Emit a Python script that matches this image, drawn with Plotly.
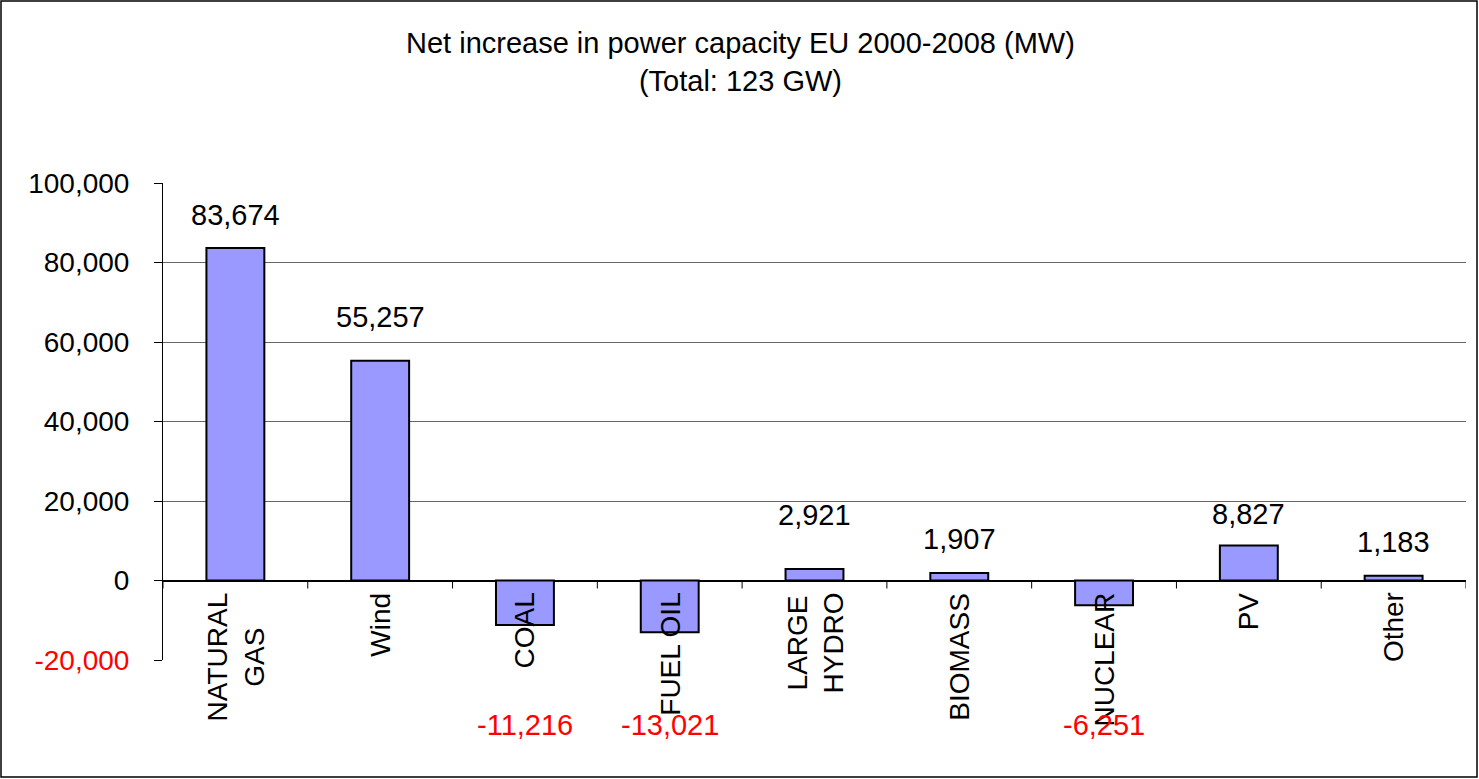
import plotly.graph_objects as go

# Net capacity change by technology, EU 2000-2008 (MW)
categories = ["NATURAL<br>GAS", "Wind", "COAL", "FUEL OIL", "LARGE<br>HYDRO",
              "BIOMASS", "NUCLEAR", "PV", "Other"]
values = [83674, 55257, -11216, -13021, 2921, 1907, -6251, 8827, 1183]
tick_vals = [-20000, 0, 20000, 40000, 60000, 80000, 100000]
tick_text = ['<span style="color:#ff0000">-20,000</span>', "0", "20,000", "40,000",
             "60,000", "80,000", "100,000"]

# extra vertical lift (px) for each positive value label
label_lift = [15, 26, 0, 0, 36, 16, 0, 13, 16]

W, H = 1479, 779
L, R, T, B = 163, 13, 183, 119
FONT = "Arial, Liberation Sans, sans-serif"
FS_TITLE = 29
FS_TICK = 28
FS_CAT = 28
FS_VAL = 29


def px_x(px):
    return (px - L) / (W - L - R)


def px_y(py):
    return (H - B - py) / (H - T - B)


xs = list(range(len(categories)))

fig = go.Figure(go.Bar(
    x=xs, y=values, width=0.4,
    marker=dict(color="#9999ff", line=dict(color="#000000", width=2)),
    hoverinfo="skip",
))

ann = []
# title
ann.append(dict(
    text="Net increase in power capacity EU 2000-2008 (MW)<br>(Total: 123 GW)",
    xref="paper", yref="paper", x=px_x(740), y=px_y(62),
    xanchor="center", yanchor="middle", showarrow=False,
    font=dict(size=FS_TITLE, color="#000000", family=FONT),
))
for i, (cat, v) in enumerate(zip(categories, values)):
    # rotated category label hanging below the zero line
    ann.append(dict(
        text=cat, x=i, y=0, xref="x", yref="y", textangle=-90,
        xanchor="center", yanchor="top", yshift=-10, showarrow=False,
        align="center", font=dict(size=FS_CAT, color="#000000", family=FONT),
    ))
    label = f"{v:,}"
    if v >= 0:
        ann.append(dict(
            text=label, x=i, y=v, xref="x", yref="y",
            xanchor="center", yanchor="bottom", yshift=label_lift[i],
            showarrow=False, font=dict(size=FS_VAL, color="#000000", family=FONT),
        ))
    else:
        ann.append(dict(
            text=label, x=i, y=px_y(725), xref="x", yref="paper",
            xanchor="center", yanchor="middle",
            showarrow=False, font=dict(size=FS_VAL, color="#ff0000", family=FONT),
        ))

shapes = []
# category boundary ticks on the zero line
for k in range(len(categories) + 1):
    shapes.append(dict(
        type="line", xref="x", yref="y", x0=k - 0.5, x1=k - 0.5,
        ysizemode="pixel", yanchor=0, y0=0, y1=-8,
        line=dict(color="#000000", width=1),
    ))
# outer chart frame
shapes.append(dict(
    type="rect", xref="paper", yref="paper",
    x0=px_x(1), x1=px_x(W - 2), y0=px_y(H - 2), y1=px_y(1),
    line=dict(color="#000000", width=1.5), layer="below",
))

fig.update_layout(
    width=W, height=H,
    margin=dict(l=L, r=R, t=T, b=B),
    paper_bgcolor="#ffffff", plot_bgcolor="#ffffff",
    showlegend=False,
    annotations=ann, shapes=shapes,
    font=dict(family=FONT, size=FS_TICK, color="#000000"),
    xaxis=dict(
        range=[-0.5, len(categories) - 0.5], showticklabels=False,
        showgrid=False, zeroline=False, showline=False, ticks="",
        fixedrange=True,
    ),
    yaxis=dict(
        range=[-20000, 100000], tickvals=tick_vals, ticktext=tick_text,
        showgrid=True, gridcolor="#666666", gridwidth=1,
        zeroline=True, zerolinecolor="#000000", zerolinewidth=1.5,
        showline=True, linecolor="#000000", linewidth=1,
        ticks="outside", ticklen=8, tickcolor="#000000",
        ticklabelstandoff=19,
        tickfont=dict(size=FS_TICK, color="#000000", family=FONT),
        fixedrange=True,
    ),
)

fig.write_html("out.html", config={"displayModeBar": False})
